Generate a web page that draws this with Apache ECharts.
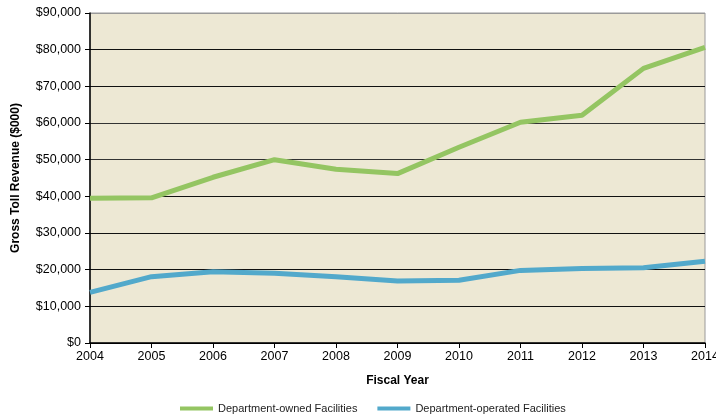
<!DOCTYPE html>
<html><head><meta charset="utf-8">
<script src="https://cdn.jsdelivr.net/npm/echarts@6/dist/echarts.min.js"></script>
<style>html,body{margin:0;padding:0;background:#fff}#c{width:716px;height:418px}</style>
</head><body><div id="c"></div>
<script>
const years = ['2004','2005','2006','2007','2008','2009','2010','2011','2012','2013','2014'];
const ownedValues = [39500, 39600, 45200, 50000, 47400, 46200, 53400, 60200, 62100, 74900, 80600];
const operatedValues = [13800, 18100, 19400, 19000, 18100, 16900, 17100, 19800, 20300, 20500, 22300];
const seriesNames = ['Department-owned Facilities', 'Department-operated Facilities'];
const yMin = 0, yMax = 90000, yStep = 10000;

const font = '"Liberation Sans", Arial, sans-serif';
const chart = echarts.init(document.getElementById('c'));
chart.setOption({
  animation: false,
  textStyle: {fontFamily: font},
  grid: {left: 90, right: 11, top: 13, bottom: 75, outerBoundsMode: 'none', containLabel: false,
    show: true, backgroundColor: '#EDE8D4', borderColor: '#9a9a9a', borderWidth: 1},
  legend: {
    bottom: -1, left: 175, itemWidth: 33, itemHeight: 4, itemGap: 20,
    textStyle: {fontSize: 11, color: '#222', fontFamily: font},
    data: seriesNames.map(n => ({name: n, icon: 'rect'}))
  },
  xAxis: {
    type: 'category', data: years, boundaryGap: false,
    name: 'Fiscal Year', nameLocation: 'middle', nameGap: 32,
    nameTextStyle: {fontSize: 12, fontWeight: 'bold', color: '#000'},
    axisLine: {lineStyle: {color: '#000', width: 1.5}},
    axisTick: {show: true, length: 5, lineStyle: {color: '#000'}},
    axisLabel: {fontSize: 12.5, color: '#000', margin: 7},
    splitLine: {show: false}
  },
  yAxis: {
    type: 'value', min: yMin, max: yMax, interval: yStep,
    name: 'Gross Toll Revenue ($000)', nameLocation: 'middle', nameGap: 68,
    nameTextStyle: {fontSize: 12, fontWeight: 'bold', color: '#000'},
    axisLine: {show: true, lineStyle: {color: '#000', width: 1.5}},
    axisTick: {show: true, length: 5, lineStyle: {color: '#000'}},
    axisLabel: {fontSize: 12.5, color: '#000', margin: 9,
      formatter: v => '$' + v.toLocaleString('en-US')},
    splitLine: {show: true, lineStyle: {color: ['#000','#111','#111','#111','#111','#333','#333','#111','#111','#9a9a9a'], width: 1.2}}
  },
  series: [
    {name: seriesNames[0], type: 'line', data: ownedValues, symbol: 'none',
     lineStyle: {color: '#94C562', width: 5}, itemStyle: {color: '#94C562'}},
    {name: seriesNames[1], type: 'line', data: operatedValues, symbol: 'none',
     lineStyle: {color: '#52A9CB', width: 5}, itemStyle: {color: '#52A9CB'}}
  ]
});
</script></body></html>
